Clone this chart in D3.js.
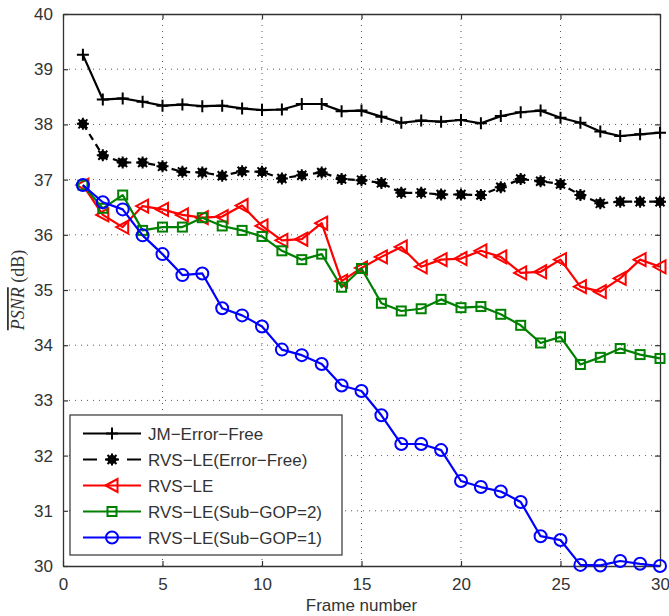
<!DOCTYPE html>
<html><head><meta charset="utf-8">
<script src="https://cdn.jsdelivr.net/npm/d3@7"></script>
<style>body{margin:0;background:#fff}svg{display:block}</style>
</head><body>
<div id="chart"></div>
<script>
const frames = d3.range(1, 31);
const jmErrorFree = [39.26,38.45,38.47,38.41,38.34,38.36,38.33,38.34,38.29,38.26,38.27,38.37,38.37,38.24,38.25,38.14,38.03,38.07,38.05,38.08,38.02,38.15,38.22,38.25,38.12,38.03,37.87,37.79,37.82,37.85];
const rvsErrorFree = [38.01,37.44,37.31,37.31,37.24,37.14,37.13,37.07,37.15,37.14,37.02,37.08,37.13,37.01,36.99,36.94,36.76,36.76,36.73,36.73,36.72,36.86,37.01,36.97,36.92,36.72,36.57,36.60,36.60,36.60];
const rvsLE = [36.90,36.36,36.14,36.52,36.46,36.36,36.31,36.33,36.53,36.16,35.90,35.92,36.21,35.16,35.40,35.60,35.78,35.42,35.55,35.57,35.71,35.60,35.31,35.33,35.55,35.06,34.97,35.21,35.55,35.42];
const rvsSub2 = [36.90,36.48,36.72,36.08,36.14,36.14,36.31,36.16,36.08,35.97,35.71,35.55,35.65,35.05,35.39,34.76,34.62,34.66,34.83,34.68,34.70,34.56,34.36,34.04,34.15,33.65,33.78,33.94,33.83,33.76];
const rvsSub1 = [36.90,36.59,36.46,35.99,35.65,35.27,35.30,34.67,34.54,34.34,33.92,33.82,33.66,33.27,33.17,32.73,32.21,32.21,32.10,31.54,31.43,31.35,31.16,30.54,30.47,30.02,30.01,30.09,30.04,30.00];
const seriesNames = ["JM\u2212Error\u2212Free","RVS\u2212LE(Error\u2212Free)","RVS\u2212LE","RVS\u2212LE(Sub\u2212GOP=2)","RVS\u2212LE(Sub\u2212GOP=1)"];
const xTicks = [0,5,10,15,20,25,30];
const yTicks = [30,31,32,33,34,35,36,37,38,39,40];

const series = [
  {name: seriesNames[0], values: jmErrorFree, color: "#000", dash: null, marker: "plus"},
  {name: seriesNames[1], values: rvsErrorFree, color: "#000", dash: "7,5", marker: "star"},
  {name: seriesNames[2], values: rvsLE, color: "#ff0000", dash: null, marker: "tri"},
  {name: seriesNames[3], values: rvsSub2, color: "#008000", dash: null, marker: "square"},
  {name: seriesNames[4], values: rvsSub1, color: "#0000ff", dash: null, marker: "circle"}
];

const W = 669, H = 616;
const m = {left: 63, right: 9, top: 14, bottom: 50};
const svg = d3.select("#chart").append("svg").attr("width", W).attr("height", H);
const x = d3.scaleLinear().domain([0, 30]).range([m.left, W - m.right]);
const y = d3.scaleLinear().domain([30, 40]).range([H - m.bottom, m.top]);
const font = "'Liberation Sans', Arial, sans-serif";

// grid
const grid = svg.append("g");
xTicks.slice(1, -1).forEach(t => grid.append("line").attr("x1", x(t)).attr("x2", x(t)).attr("y1", y(30)).attr("y2", y(40))
  .attr("stroke", "#555").attr("stroke-width", 1).attr("stroke-dasharray", "1,5"));
yTicks.slice(1, -1).forEach(t => grid.append("line").attr("x1", x(0)).attr("x2", x(30)).attr("y1", y(t)).attr("y2", y(t))
  .attr("stroke", "#555").attr("stroke-width", 1).attr("stroke-dasharray", "1,5"));

// axes
const tl = 5;
const axB = svg.append("g").attr("transform", `translate(0,${y(30)})`).call(d3.axisBottom(x).tickValues(xTicks).tickSizeInner(-tl).tickSizeOuter(0).tickPadding(12));
const axT = svg.append("g").attr("transform", `translate(0,${y(40)})`).call(d3.axisTop(x).tickValues(xTicks).tickSizeInner(-tl).tickSizeOuter(0).tickFormat(""));
const axL = svg.append("g").attr("transform", `translate(${x(0)},0)`).call(d3.axisLeft(y).tickValues(yTicks).tickSizeInner(-tl).tickSizeOuter(0).tickPadding(10));
const axR = svg.append("g").attr("transform", `translate(${x(30)},0)`).call(d3.axisRight(y).tickValues(yTicks).tickSizeInner(-tl).tickSizeOuter(0).tickFormat(""));
[axB, axT, axL, axR].forEach(a => {
  a.selectAll("path.domain").attr("stroke", "#333").attr("stroke-width", 1.3);
  a.selectAll(".tick line").attr("stroke", "#333").attr("stroke-width", 1.2);
  a.selectAll("text").attr("font-family", font).attr("font-size", 17).attr("fill", "#333");
});

// lines
const line = d3.line().x((d, i) => x(frames[i])).y(d => y(d));
function drawMarker(g, type, cx, cy, color) {
  if (type === "plus") {
    g.append("path").attr("d", `M${cx-6},${cy}H${cx+6}M${cx},${cy-6}V${cy+6}`).attr("stroke", color).attr("stroke-width", 2).attr("fill", "none");
  } else if (type === "star") {
    g.append("circle").attr("cx", cx).attr("cy", cy).attr("r", 4.5).attr("fill", color);
    g.append("path").attr("d", `M${cx-6},${cy}H${cx+6}M${cx},${cy-6}V${cy+6}M${cx-4.5},${cy-4.5}L${cx+4.5},${cy+4.5}M${cx-4.5},${cy+4.5}L${cx+4.5},${cy-4.5}`)
      .attr("stroke", color).attr("stroke-width", 2).attr("fill", "none");
  } else if (type === "tri") {
    g.append("path").attr("d", `M${cx-6.5},${cy}L${cx+5.5},${cy-6.5}L${cx+5.5},${cy+6.5}Z`).attr("stroke", color).attr("stroke-width", 2).attr("fill", "none");
  } else if (type === "square") {
    g.append("rect").attr("x", cx-4.5).attr("y", cy-4.5).attr("width", 9).attr("height", 9).attr("stroke", color).attr("stroke-width", 2).attr("fill", "none");
  } else if (type === "circle") {
    g.append("circle").attr("cx", cx).attr("cy", cy).attr("r", 6).attr("stroke", color).attr("stroke-width", 2).attr("fill", "none");
  }
}
series.forEach(s => {
  const g = svg.append("g");
  g.append("path").datum(s.values).attr("d", line).attr("fill", "none").attr("stroke", s.color).attr("stroke-width", 2.2)
    .attr("stroke-dasharray", s.dash).attr("stroke-linejoin", "round");
  s.values.forEach((v, i) => drawMarker(g, s.marker, x(frames[i]), y(v), s.color));
});

// legend
const lg = svg.append("g");
const lx = 70, ly = 415, lw = 272, lh = 140;
lg.append("rect").attr("x", lx).attr("y", ly).attr("width", lw).attr("height", lh).attr("fill", "#fff").attr("stroke", "#333").attr("stroke-width", 1.2);
series.forEach((s, i) => {
  const yy = ly + 18.5 + i * 26;
  lg.append("line").attr("x1", lx + 13).attr("x2", lx + 71).attr("y1", yy).attr("y2", yy).attr("stroke", s.color).attr("stroke-width", 2.2)
    .attr("stroke-dasharray", s.dash ? "14,8" : null);
  drawMarker(lg, s.marker, lx + 42, yy, s.color);
  lg.append("text").attr("x", lx + 78).attr("y", yy + 6).attr("font-family", font).attr("font-size", 17).attr("fill", "#333").text(s.name);
});

// axis labels
svg.append("text").attr("x", x(15)).attr("y", 611).attr("text-anchor", "middle").attr("font-family", font).attr("font-size", 17).attr("fill", "#333").text("Frame number");
const yl = svg.append("text").attr("transform", `translate(24,${(y(30)+y(40))/2}) rotate(-90)`).attr("text-anchor", "middle")
  .attr("font-family", "'Liberation Serif', 'Times New Roman', serif").attr("font-size", 18).attr("fill", "#333");
yl.append("tspan").attr("font-style", "italic").attr("text-decoration", "overline").text("PSNR");
yl.append("tspan").text(" (dB)");
</script>
</body></html>
